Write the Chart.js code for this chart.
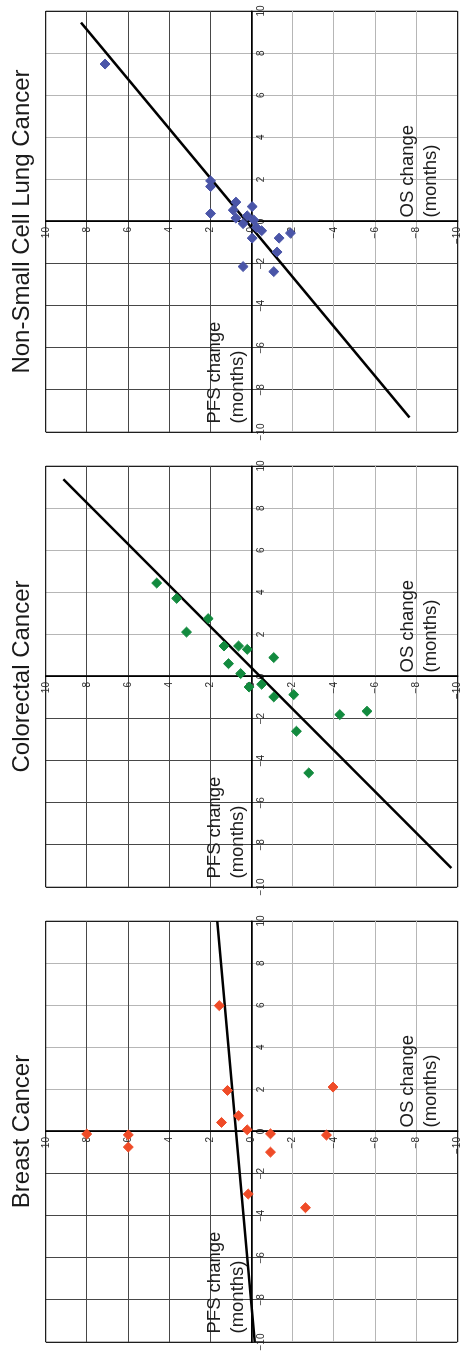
<!DOCTYPE html>
<html>
<head>
<meta charset="utf-8">
<script src="https://cdn.jsdelivr.net/npm/chart.js@4.4.1/dist/chart.umd.min.js"></script>
<style>
  html, body { margin: 0; padding: 0; background: #fff; overflow: hidden; width: 462px; height: 1357px; }
  .panel { position: absolute; left: 0; top: 0; width: 455px; height: 464px; transform-origin: 0 0; }
  .panel canvas { display: block; }
</style>
</head>
<body>
<div class="panel" id="p0"><canvas id="c0" width="455" height="464"></canvas></div>
<div class="panel" id="p1"><canvas id="c1" width="455" height="464"></canvas></div>
<div class="panel" id="p2"><canvas id="c2" width="455" height="464"></canvas></div>
<script>
// Change in PFS (x) against change in OS (y), months, one point per trial
const panelTitles = ['Non-Small Cell Lung Cancer', 'Colorectal Cancer', 'Breast Cancer'];

const nsclcPfs = [7.48, 1.93, 1.66, 0.38, 0.92, 0.54, 0.16, -0.10, 0.27, 0.71, 0.07, -0.29, -0.44, -0.79, -0.79, -0.55, -1.45, -2.14, -2.38];
const nsclcOs  = [7.12, 1.99, 1.99, 1.99, 0.76, 0.89, 0.76, 0.41, 0.21, -0.03, -0.11, -0.24, -0.49, -0.03, -1.34, -1.89, -1.24, 0.41, -1.08];
const nsclcFitPfs = [-9.31, 9.45];
const nsclcFitOs  = [-7.68, 8.29];

const crcPfs = [4.44, 3.71, 2.11, 2.75, 1.45, 1.45, 1.29, 0.61, 0.14, 0.90, -0.50, -0.37, -0.97, -0.86, -2.60, -1.81, -1.65, -4.58];
const crcOs  = [4.61, 3.64, 3.16, 2.11, 1.34, 0.63, 0.21, 1.12, 0.53, -1.08, 0.12, -0.49, -1.08, -2.05, -2.18, -4.29, -5.61, -2.78];
const crcFitPfs = [-9.10, 9.37];
const crcFitOs  = [-9.71, 9.15];

const breastPfs = [-0.12, -0.16, -0.74, 5.98, 1.95, 0.75, 0.43, 0.08, -0.11, -0.98, -2.97, -3.62, -0.17, 2.11];
const breastOs  = [8.01, 5.99, 5.99, 1.57, 1.17, 0.63, 1.46, 0.21, -0.92, -0.92, 0.16, -2.62, -3.64, -3.96];
const breastFitPfs = [-10, 10];
const breastFitOs  = [-0.16, 1.67];

const axisTicks = [-10, -8, -6, -4, -2, 0, 2, 4, 6, 8, 10];
const xAxisTitle = ['PFS change', '(months)'];
const yAxisTitle = ['OS change', '(months)'];

const panelColors = ['#4a55a8', '#128a3e', '#ef4b27'];

const FONT = "'Liberation Sans', Arial, Helvetica, sans-serif";
const FRAME = '#1f1f1f';
const AXIS = '#000000';
const DARK = '#474747';
const LIGHT = '#b6b6b6';

function minusSign(v) {
  return String(v).replace('-', '\u2212');
}

function gridColor(axis) {
  return (ctx) => {
    const v = ctx.tick ? ctx.tick.value : 0;
    if (v === 0) return AXIS;
    if (Math.abs(v) === 10) return FRAME;
    if (axis === 'x') return v < 0 ? DARK : LIGHT;
    return v > 0 ? DARK : LIGHT;
  };
}
function gridWidth(ctx) {
  const v = ctx.tick ? ctx.tick.value : 0;
  if (v === 0) return 1.6;
  if (Math.abs(v) === 10) return 1.3;
  return 1;
}

// Axis captions placed against the centred axes
const axisCaptions = {
  id: 'axisCaptions',
  beforeDatasetsDraw(chart) {
    const {ctx, scales: {x, y}} = chart;
    ctx.save();
    ctx.font = '18.5px ' + FONT;
    ctx.fillStyle = '#1c1c1c';
    ctx.textAlign = 'left';
    ctx.textBaseline = 'alphabetic';
    const x0 = x.getPixelForValue(0);
    const y0 = y.getPixelForValue(0);
    const xl = x.getPixelForValue(-10);
    const yb = y.getPixelForValue(-10);
    ctx.fillText(xAxisTitle[0], xl + 8.5, y0 - 32);
    ctx.fillText(xAxisTitle[1], xl + 8.5, y0 - 8.5);
    ctx.fillText(yAxisTitle[0], x0 + 4, yb - 44);
    ctx.fillText(yAxisTitle[1], x0 + 4, yb - 21);
    ctx.restore();
  }
};

function makePanel(i, pfs, os, fitPfs, fitOs) {
  const wrap = document.getElementById('p' + i);
  wrap.style.transform = 'translate(0px, ' + (455 * i + 455) + 'px) rotate(-90deg)';
  const points = pfs.map((v, k) => ({x: v, y: os[k]}));
  const fit = fitPfs.map((v, k) => ({x: v, y: fitOs[k]}));
  const tickCfg = (axis) => ({
    min: -10,
    max: 10,
    afterBuildTicks: (scale) => { scale.ticks = axisTicks.map(v => ({value: v})); },
    grid: { color: gridColor(axis), lineWidth: gridWidth, drawTicks: false },
    border: { display: true, color: AXIS, width: 1.6 },
    ticks: {
      font: { family: FONT, size: 10 },
      color: '#2a2a2a',
      padding: axis === 'x' ? 4 : 0,
      autoSkip: false,
      maxRotation: 0,
      minRotation: 0,
      callback: axis === 'x' ? (v) => minusSign(v) : (v) => minusSign(v) + '  '
    }
  });
  return new Chart(document.getElementById('c' + i), {
    type: 'scatter',
    data: {
      datasets: [
        {
          data: points,
          pointStyle: 'rectRot',
          pointRadius: 5,
          backgroundColor: panelColors[i],
          borderColor: panelColors[i],
          borderWidth: 1
        },
        {
          data: fit,
          showLine: true,
          borderColor: '#000',
          borderWidth: 2.5,
          pointRadius: 0,
          fill: false
        }
      ]
    },
    options: {
      responsive: false,
      animation: false,
      events: [],
      layout: { padding: { left: 23, right: 11, top: 0, bottom: 6.7 } },
      plugins: {
        legend: { display: false },
        tooltip: { enabled: false },
        title: {
          display: true,
          text: panelTitles[i],
          color: '#1a1a1a',
          font: { family: FONT, size: 24, weight: 'normal', lineHeight: 1.2 },
          padding: { top: 8, bottom: 9 }
        }
      },
      scales: {
        x: Object.assign({ type: 'linear', position: { y: 0 } }, tickCfg('x')),
        y: Object.assign({ type: 'linear', position: { x: 0 } }, tickCfg('y'))
      }
    },
    plugins: [axisCaptions]
  });
}

makePanel(0, nsclcPfs, nsclcOs, nsclcFitPfs, nsclcFitOs);
makePanel(1, crcPfs, crcOs, crcFitPfs, crcFitOs);
makePanel(2, breastPfs, breastOs, breastFitPfs, breastFitOs);
</script>
</body>
</html>
